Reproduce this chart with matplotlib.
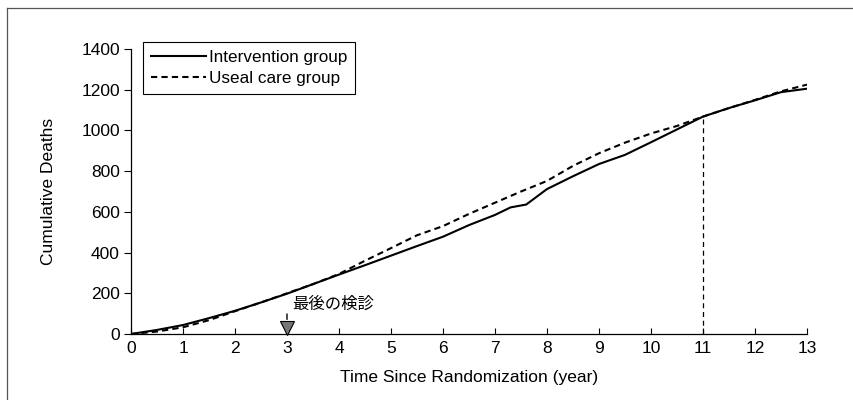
import matplotlib
matplotlib.use('Agg')
import matplotlib.pyplot as plt
from matplotlib.lines import Line2D
import numpy as np

plt.rcParams['font.family'] = ['Liberation Sans', 'Noto Sans CJK JP', 'DejaVu Sans']

# ---------------------------------------------------------------- data
years_int = [0, 0.5, 1, 1.5, 2, 2.5, 3, 3.5, 4, 4.5, 5, 5.5, 6, 6.5, 7, 7.3, 7.6,
             8, 8.5, 9, 9.5, 10, 10.5, 11, 11.5, 12, 12.5, 13]
deaths_int = [0, 20, 44, 78, 114, 155, 198, 245, 292, 338, 385, 432, 478, 535, 585, 622, 636,
              712, 775, 835, 880, 942, 1005, 1068, 1110, 1148, 1188, 1205]

years_usual = [0, 0.5, 1, 1.5, 2, 2.5, 3, 3.5, 4, 4.5, 5, 5.5, 6, 6.5, 7, 7.5,
               8, 8.5, 9, 9.5, 10, 10.5, 11, 11.5, 12, 12.5, 13]
deaths_usual = [0, 12, 33, 68, 112, 155, 200, 245, 295, 360, 422, 485, 530, 590, 645, 700,
                752, 826, 888, 940, 985, 1022, 1068, 1110, 1150, 1192, 1225]

LABEL_INT = 'Intervention group'
LABEL_USUAL = 'Useal care group'
LAST_SCREEN_YEAR = 3
LAST_SCREEN_TEXT = '最後の検診'
CROSS_YEAR = 11

xticks = list(range(0, 14))
yticks = list(range(0, 1401, 200))

# ---------------------------------------------------------------- figure
fig = plt.figure(figsize=(8.54, 4.0), dpi=100)
ax = fig.add_axes([0.1534, 0.165, 0.7916, 0.7125])

ax.plot(years_int, deaths_int, color='black', lw=1.5, label=LABEL_INT)
ax.plot(years_usual, deaths_usual, color='black', lw=1.5, linestyle=(0, (3, 2)),
        label=LABEL_USUAL)

# vertical marker where the curves meet
y_cross = np.interp(CROSS_YEAR, years_int, deaths_int)
ax.vlines(CROSS_YEAR, 0, y_cross, colors='black', linestyles=(0, (4, 3)), lw=0.9)

# last screening marker: triangle + arrow + label
ax.plot([LAST_SCREEN_YEAR], [28], marker='v', markersize=10, color='#777777',
        markeredgecolor='black', markeredgewidth=0.8, clip_on=False, zorder=5)
ax.annotate('', xy=(LAST_SCREEN_YEAR, 58), xytext=(LAST_SCREEN_YEAR, 112),
            arrowprops=dict(arrowstyle='-', color='black', lw=1.0))
ax.text(LAST_SCREEN_YEAR + 0.1, 145, LAST_SCREEN_TEXT, fontsize=11.8,
        ha='left', va='center')

ax.set_xlim(0, 13)
ax.set_ylim(0, 1400)
ax.set_xticks(xticks)
ax.set_yticks(yticks)
ax.tick_params(axis='x', direction='in', length=4, labelsize=12.5, pad=5)
ax.tick_params(axis='y', direction='out', length=5, labelsize=12.5, pad=3)
for s in ['top', 'right']:
    ax.spines[s].set_visible(False)
for s in ['left', 'bottom']:
    ax.spines[s].set_linewidth(0.9)

ax.set_xlabel('Time Since Randomization (year)', fontsize=12.5, labelpad=10)
ax.set_ylabel('Cumulative Deaths', fontsize=12.5, labelpad=18)

leg = ax.legend(loc='upper left', bbox_to_anchor=(0.018, 1.025), fontsize=12.3,
                fancybox=False, edgecolor='black', framealpha=1, handlelength=3.2,
                handletextpad=0.2, borderpad=0.45, labelspacing=0.4, borderaxespad=0)
leg.get_frame().set_linewidth(0.8)

# partial outer frame (left + top)
fig.add_artist(Line2D([0.008, 0.008], [0.0, 0.98], color='#555555', lw=0.9))
fig.add_artist(Line2D([0.008, 1.0], [0.98, 0.98], color='#555555', lw=0.9))

fig.savefig('out.png', dpi=100)
